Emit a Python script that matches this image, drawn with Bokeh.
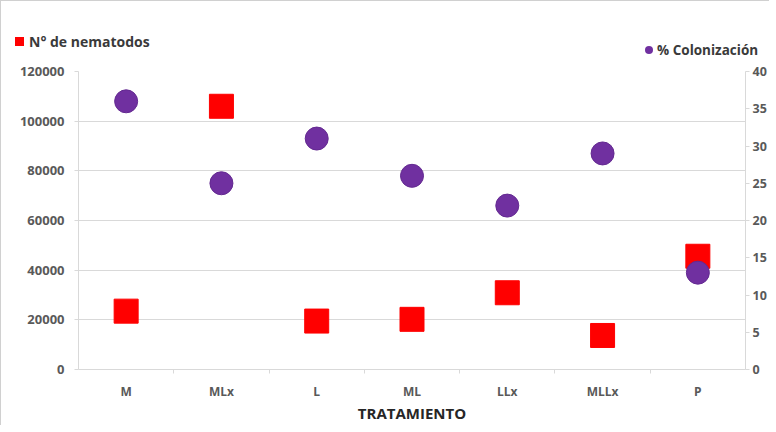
from bokeh.plotting import figure
from bokeh.models import (FactorRange, Range1d, LinearAxis, CategoricalAxis,
                          FixedTicker, LinearScale, NumeralTickFormatter, Div)
from bokeh.layouts import column
from bokeh.embed import file_html
from bokeh.resources import INLINE

# ---- data ----
categorias = ["M", "MLx", "L", "ML", "LLx", "MLLx", "P"]
nematodos = [23500, 106000, 19500, 20200, 30900, 13700, 45600]
colonizacion = [36, 25, 31, 26, 22, 29, 13]
left_ticks = [0, 20000, 40000, 60000, 80000, 100000, 120000]
right_ticks = [0, 5, 10, 15, 20, 25, 30, 35, 40]
limites = ["b%d" % i for i in range(len(categorias) + 1)]
serie_nem = "N° de nematodos"
serie_col = "% Colonización"

FONT = "Open Sans"
TICK_COLOR = "#595959"
GRID = "#d9d9d9"
RED = "#ff0000"
PURPLE = "#7030a0"
W = 768
DIV_H = 56

# ---- legend row (HTML) ----
legend_html = (
    '<div style="position:relative;width:%dpx;height:%dpx;overflow:hidden;'
    "font-family:'Open Sans',sans-serif;font-weight:bold;font-size:14px;"
    'line-height:14px;color:#3a3a3a;">'
    '<div style="position:absolute;left:14px;top:36px;width:9px;height:9px;'
    'background:%s;"></div>'
    '<div style="position:absolute;left:28px;top:34px;white-space:nowrap;">%s</div>'
    '<div style="position:absolute;left:644px;top:45px;width:8px;height:8px;'
    'border-radius:50%%;background:%s;"></div>'
    '<div style="position:absolute;left:656px;top:42px;white-space:nowrap;'
    'font-size:13.5px;">%s</div>'
    '</div>' % (W, DIV_H, RED, serie_nem, PURPLE, serie_col)
)
leyenda = Div(text=legend_html, width=W, height=DIV_H, margin=0)

p = figure(width=W, height=424 - DIV_H, output_backend="svg", toolbar_location=None,
           x_range=FactorRange(*categorias, range_padding=0),
           y_range=Range1d(0, 120000),
           x_axis_location=None, y_axis_location=None,
           min_border_left=77, min_border_right=20,
           min_border_top=70 - DIV_H, min_border_bottom=38, margin=0)
p.outline_line_color = None
p.background_fill_color = "white"
p.border_fill_color = "white"

p.extra_y_ranges = {"pct": Range1d(0, 40)}
p.extra_y_scales = {"pct": LinearScale()}
# boundary factors: shifted so their centres fall on the category edges
p.extra_x_ranges = {"lim": FactorRange(*limites, range_padding=-0.5,
                                       range_padding_units="absolute")}

# grid
p.xgrid.visible = False
p.ygrid.grid_line_color = GRID
p.ygrid.ticker = FixedTicker(ticks=left_ticks)

# left axis
yl = LinearAxis(ticker=FixedTicker(ticks=left_ticks),
                formatter=NumeralTickFormatter(format="0"))
yl.axis_line_color = GRID
yl.major_tick_line_color = GRID
yl.major_tick_out = 4
yl.major_tick_in = 0
yl.minor_tick_line_color = None
yl.major_label_standoff = 10
yl.major_label_text_font = FONT
yl.major_label_text_font_style = "bold"
yl.major_label_text_font_size = "13px"
yl.major_label_text_color = TICK_COLOR
p.add_layout(yl, "left")

# right axis
yr = LinearAxis(y_range_name="pct", ticker=FixedTicker(ticks=right_ticks))
yr.axis_line_color = GRID
yr.major_tick_line_color = GRID
yr.major_tick_out = 4
yr.major_tick_in = 0
yr.minor_tick_line_color = None
yr.major_label_standoff = 3
yr.major_label_text_font = FONT
yr.major_label_text_font_style = "bold"
yr.major_label_text_font_size = "12.5px"
yr.major_label_text_color = TICK_COLOR
p.add_layout(yr, "right")

# bottom: tick marks at category boundaries
xt = CategoricalAxis(x_range_name="lim")
xt.axis_line_color = GRID
xt.major_tick_line_color = GRID
xt.major_tick_out = 4
xt.major_tick_in = 0
xt.minor_tick_line_color = None
xt.major_label_text_alpha = 0
xt.major_label_text_font_size = "1px"
xt.major_label_text_line_height = 1.0
xt.major_label_standoff = 0
p.add_layout(xt, "below")

# bottom: category labels + axis title
xc = CategoricalAxis(axis_label="TRATAMIENTO")
xc.axis_line_color = None
xc.major_tick_line_color = None
xc.minor_tick_line_color = None
xc.major_label_standoff = 3
xc.major_label_text_font = FONT
xc.major_label_text_font_style = "bold"
xc.major_label_text_font_size = "12px"
xc.major_label_text_line_height = 1.0
xc.major_label_text_color = TICK_COLOR
xc.axis_label_standoff = 0
xc.axis_label_text_font = FONT
xc.axis_label_text_font_style = "bold"
xc.axis_label_text_font_size = "15px"
xc.axis_label_text_line_height = 1.0
xc.axis_label_text_color = "#262626"
p.add_layout(xc, "below")

# data
p.scatter(x=categorias, y=nematodos, marker="square", size=24,
          fill_color=RED, line_color=RED)
p.scatter(x=categorias, y=colonizacion, marker="circle", size=23,
          fill_color=PURPLE, line_color="#642a91", line_width=1,
          y_range_name="pct")

layout = column(leyenda, p, spacing=0, margin=0)
layout.styles = {"border-top": "1px solid #d0d0d0",
                 "border-left": "1px solid #d0d0d0"}

open("out.html", "w").write(file_html(layout, INLINE))
